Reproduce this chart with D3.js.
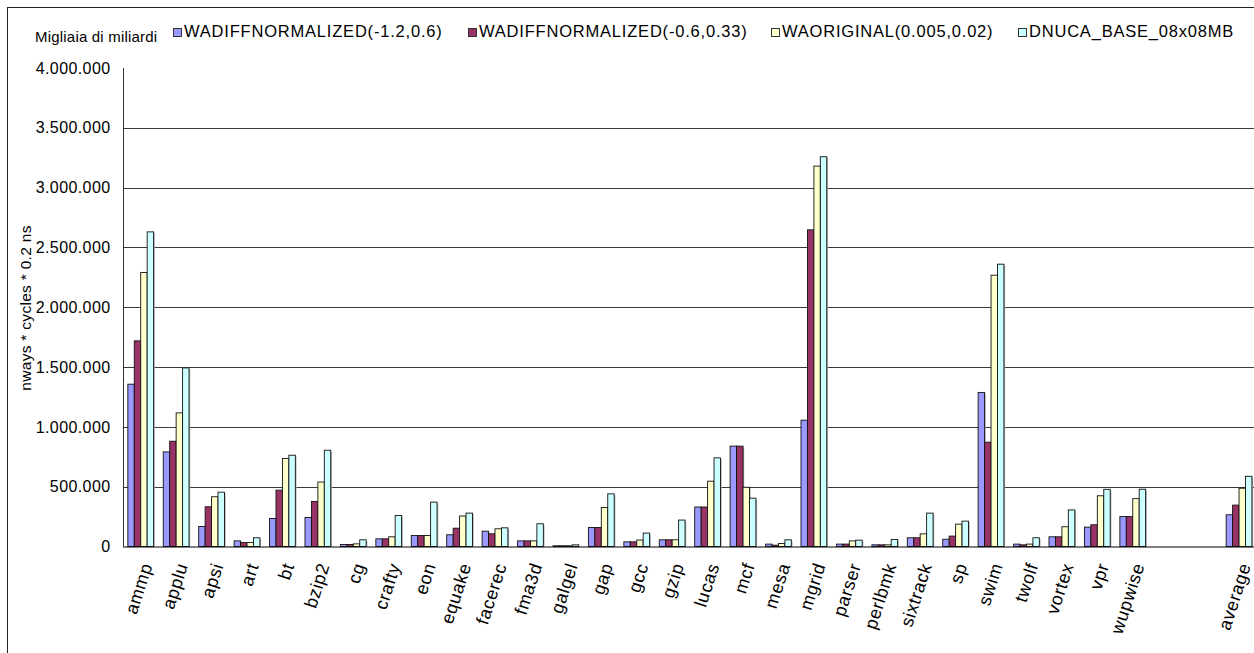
<!DOCTYPE html>
<html>
<head>
<meta charset="utf-8">
<script src="https://cdn.jsdelivr.net/npm/d3@7"></script>
<style>
  html, body { margin: 0; padding: 0; background: #fff; overflow: hidden; }
  svg { display: block; font-family: Arial, "Liberation Sans", sans-serif; }
</style>
</head>
<body>
<svg id="chart" width="1254" height="653"></svg>
<script>
// ---- data ----
const categories = ["ammp","applu","apsi","art","bt","bzip2","cg","crafty","eon","equake","facerec","fma3d","galgel","gap","gcc","gzip","lucas","mcf","mesa","mgrid","parser","perlbmk","sixtrack","sp","swim","twolf","vortex","vpr","wupwise","","","average"];
const seriesNames = ["WADIFFNORMALIZED(-1.2,0.6)","WADIFFNORMALIZED(-0.6,0.33)","WAORIGINAL(0.005,0.02)","DNUCA_BASE_08x08MB"];
const wadiff_12_06 = [1357000,791000,167000,47000,234000,243000,17000,64000,92000,98000,128000,47000,6000,159000,39000,56000,330000,839000,20000,1056000,20000,14000,73000,61000,1288000,20000,81000,162000,250000,null,null,265000];
const wadiff_06_033 = [1719000,880000,332000,33000,471000,377000,17000,64000,92000,153000,106000,47000,6000,159000,39000,56000,330000,839000,11000,2647000,20000,14000,73000,87000,872000,14000,81000,182000,250000,null,null,346000];
const waoriginal = [2291000,1117000,416000,33000,736000,539000,22000,81000,92000,255000,148000,47000,6000,326000,54000,56000,546000,495000,25000,3180000,47000,14000,106000,187000,2268000,20000,165000,424000,400000,null,null,487000];
const dnuca_base = [2630000,1493000,454000,73000,763000,805000,56000,259000,371000,279000,156000,190000,14000,440000,112000,221000,741000,404000,56000,3258000,53000,59000,279000,212000,2360000,73000,306000,478000,479000,null,null,587000];
const yTicks = [0,500000,1000000,1500000,2000000,2500000,3000000,3500000,4000000];
const yTitle = "nways * cycles * 0.2 ns";
const unitLabel = "Migliaia di miliardi";

const seriesValues = [wadiff_12_06, wadiff_06_033, waoriginal, dnuca_base];
const colors = ["#9999FF","#993366","#FFFFCC","#CCFFFF"];

// ---- layout ----
const svg = d3.select("#chart");
const plotLeft = 123, plotTop = 68, plotBottom = 546.5;
const catStep = 35.43;
const plotRight = plotLeft + catStep * categories.length;

const x = d3.scaleBand().domain(d3.range(categories.length)).range([plotLeft, plotRight]).padding(0);
const xs = d3.scaleBand().domain(d3.range(seriesNames.length)).range([0, x.bandwidth()]).paddingInner(0).paddingOuter(0.75);
const y = d3.scaleLinear().domain([0, 4000000]).range([plotBottom, plotTop]);

const it = d3.formatLocale({decimal: ",", thousands: ".", grouping: [3], currency: ["", ""]});
const fmt = it.format(",");

// outer frame
svg.append("rect").attr("x", 7.5).attr("y", 7.5).attr("width", 1300).attr("height", 700)
  .attr("fill", "none").attr("stroke", "#222").attr("stroke-width", 1);

// gridlines
svg.append("g").selectAll("line").data(yTicks.filter(t => t > 0 && t < 4000000)).join("line")
  .attr("x1", plotLeft).attr("x2", 1254)
  .attr("y1", d => Math.round(y(d)) + 0.5).attr("y2", d => Math.round(y(d)) + 0.5)
  .attr("stroke", "#3a3a3a").attr("stroke-width", 1);

// y axis
const yAxis = d3.axisLeft(y).tickValues(yTicks).tickFormat(fmt).tickSize(0).tickPadding(13);
const gy = svg.append("g").attr("transform", `translate(${plotLeft + 0.5},0)`).call(yAxis);
gy.select(".domain").attr("stroke", "#333").attr("d", `M0,${plotTop}V${plotBottom}`);
gy.selectAll("text").attr("font-size", 16).attr("letter-spacing", "0.4px").attr("fill", "#000")
  .attr("font-family", "Arial, 'Liberation Sans', sans-serif");

// bars (light shadow then bar)
const gBars = svg.append("g");
seriesValues.forEach((vals, si) => {
  const g = gBars.append("g");
  const data = vals.map((v, i) => ({v, i})).filter(d => d.v != null);
  g.selectAll("rect.sh").data(data).join("rect").attr("class", "sh")
    .attr("x", d => x(d.i) + xs(si) + 1.2)
    .attr("width", xs.bandwidth())
    .attr("y", d => y(d.v) + 1.2)
    .attr("height", d => Math.max(0, y(0) - y(d.v) - 1.2))
    .attr("fill", "#b0b0b0");
  g.selectAll("rect.bar").data(data).join("rect").attr("class", "bar")
    .attr("x", d => x(d.i) + xs(si))
    .attr("width", xs.bandwidth())
    .attr("y", d => y(d.v))
    .attr("height", d => y(0) - y(d.v))
    .attr("fill", colors[si])
    .attr("stroke", "#111").attr("stroke-width", 0.9);
});

// x axis
const xAxis = d3.axisBottom(x).tickFormat(i => categories[i]).tickSize(0).tickPadding(0);
const gx = svg.append("g").attr("transform", `translate(0,${plotBottom})`).call(xAxis);
gx.select(".domain").attr("stroke", "#000").attr("d", `M${plotLeft},0.5H1254`);
gx.selectAll("text")
  .attr("font-size", 18).attr("letter-spacing", "0.6px").attr("fill", "#000")
  .attr("font-family", "Arial, 'Liberation Sans', sans-serif")
  .attr("text-anchor", "end").attr("dy", null).attr("y", null)
  .attr("transform", "translate(12,19) rotate(-72)");

// y title
svg.append("text").attr("transform", "translate(31,308) rotate(-90)")
  .attr("text-anchor", "middle").attr("font-size", 15.5).attr("letter-spacing", "0.3px")
  .text(yTitle);

// unit label
svg.append("text").attr("x", 35).attr("y", 42).attr("font-size", 15).attr("letter-spacing", "0.2px").text(unitLabel);

// legend
const legendX = [173, 468, 771, 1018];
const lg = svg.append("g");
seriesNames.forEach((n, i) => {
  lg.append("rect").attr("x", legendX[i] + 0.5).attr("y", 28.5).attr("width", 8).attr("height", 8)
    .attr("fill", colors[i]).attr("stroke", "#333").attr("stroke-width", 1);
  lg.append("text").attr("x", legendX[i] + 11).attr("y", 37).attr("font-size", 16.5)
    .attr("letter-spacing", "0.8px").text(n);
});
</script>
</body>
</html>
